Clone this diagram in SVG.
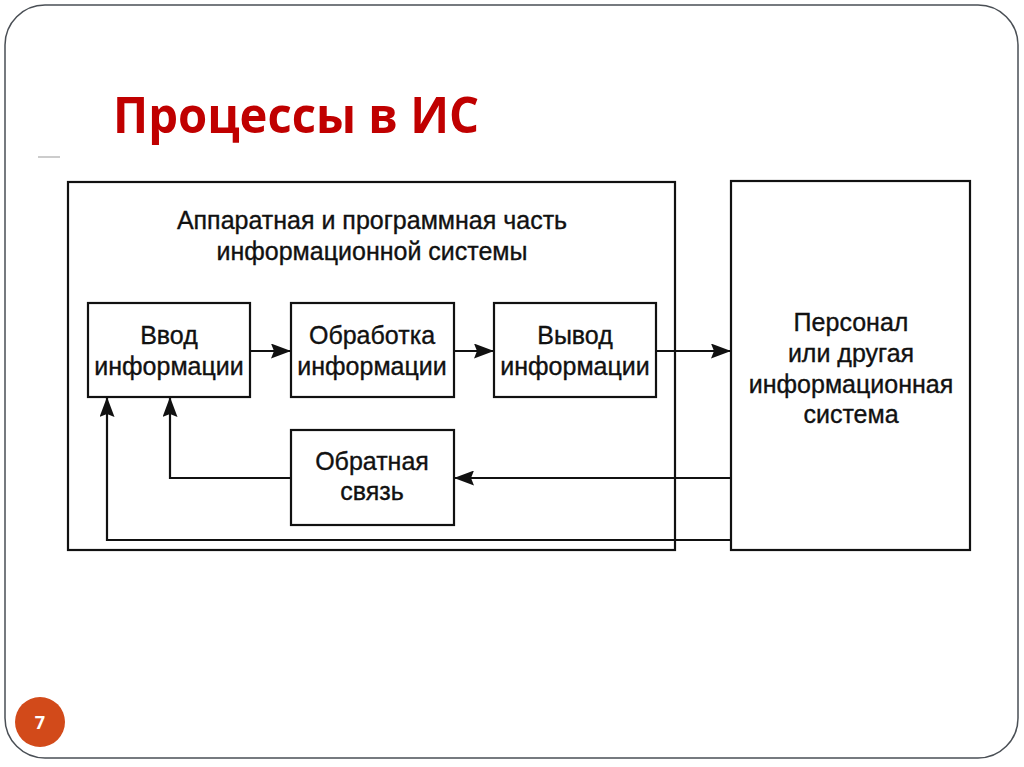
<svg xmlns="http://www.w3.org/2000/svg" width="1024" height="767" viewBox="0 0 1024 767">
<style>
.box{fill:#fff;stroke:#111;stroke-width:2.2}
.t{font-family:"Liberation Sans",Arial,sans-serif;font-size:25px;fill:#111;stroke:#111;stroke-width:0.35;text-anchor:middle}
.c{fill:none;stroke:#111;stroke-width:2.2}
</style>
<defs>
<marker id="ah" viewBox="0 0 20 15" refX="20" refY="7.5" markerWidth="20" markerHeight="15" markerUnits="userSpaceOnUse" orient="auto">
<path d="M0,0 L20,7.5 L0,15 L3,7.5 Z" fill="#111"/>
</marker>
</defs>
<rect width="1024" height="767" fill="#fff"/>
<rect x="5" y="5" width="1013" height="753" rx="40" ry="40" fill="#fff" stroke="#4a4f55" stroke-width="1.5"/>
<text x="113" y="133" font-family="'Open Sans','Liberation Sans',sans-serif" font-weight="bold" font-size="50" fill="#c00000" textLength="366" lengthAdjust="spacingAndGlyphs">Процессы в ИС</text>
<line x1="38" y1="157" x2="60" y2="157" stroke="#bbb" stroke-width="1.5"/>
<g id="hw">
<rect class="box" x="68" y="182" width="607" height="368"/>
<text class="t" x="372" y="229">Аппаратная и программная часть</text>
<text class="t" x="372" y="260">информационной системы</text>
</g>
<g id="personnel">
<rect class="box" x="731" y="181" width="239" height="369"/>
<text class="t" x="851" y="331">Персонал</text>
<text class="t" x="851" y="362">или другая</text>
<text class="t" x="851" y="393">информационная</text>
<text class="t" x="851" y="423">система</text>
</g>
<g id="input">
<rect class="box" x="88" y="303" width="162" height="94"/>
<text class="t" x="169" y="344">Ввод</text>
<text class="t" x="169" y="375">информации</text>
</g>
<g id="processing">
<rect class="box" x="291" y="303" width="163" height="94"/>
<text class="t" x="372" y="344">Обработка</text>
<text class="t" x="372" y="375">информации</text>
</g>
<g id="output">
<rect class="box" x="494" y="303" width="162" height="94"/>
<text class="t" x="575" y="344">Вывод</text>
<text class="t" x="575" y="375">информации</text>
</g>
<g id="feedback">
<rect class="box" x="291" y="430" width="163" height="95"/>
<text class="t" x="372" y="470">Обратная</text>
<text class="t" x="372" y="500">связь</text>
</g>
<g id="connectors">
<line class="c" x1="250" y1="351" x2="291" y2="351" marker-end="url(#ah)"/>
<line class="c" x1="454" y1="351" x2="494" y2="351" marker-end="url(#ah)"/>
<line class="c" x1="656" y1="351" x2="731" y2="351" marker-end="url(#ah)"/>
<line class="c" x1="731" y1="478" x2="454" y2="478" marker-end="url(#ah)"/>
<polyline class="c" points="291,478 170,478 170,397" marker-end="url(#ah)"/>
<polyline class="c" points="731,540 107,540 107,397" marker-end="url(#ah)"/>
</g>
<g id="page">
<circle cx="40" cy="722" r="25" fill="#d24a1a"/>
<text x="40" y="729" font-family="'Open Sans','Liberation Sans',sans-serif" font-weight="bold" font-size="18" fill="#fff" text-anchor="middle">7</text>
</g>
</svg>
